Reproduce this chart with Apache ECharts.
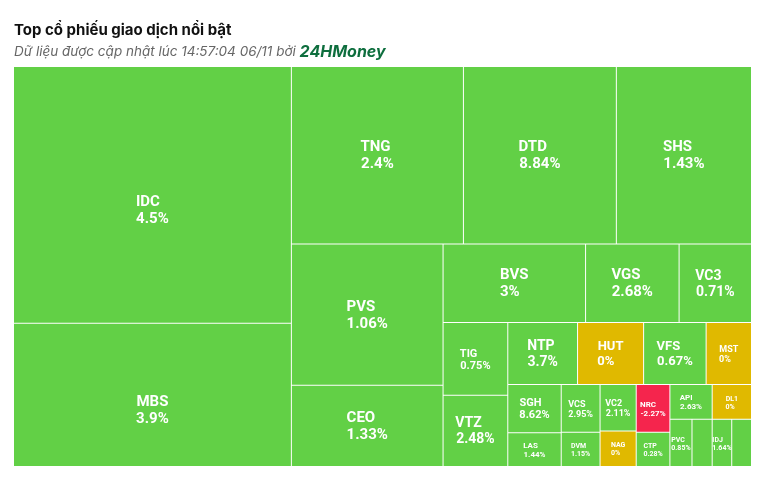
<!DOCTYPE html>
<html>
<head>
<meta charset="utf-8">
<script src="https://cdn.jsdelivr.net/npm/echarts@6/dist/echarts.min.js"></script>
<style>
html,body{margin:0;padding:0;background:#fff;}
#chart{width:771px;height:480px;}
</style>
</head>
<body>
<div id="chart"></div>
<script>
// ---------------- data ----------------
const tickers = ["IDC","MBS","TNG","DTD","SHS","PVS","CEO","BVS","VGS","VC3","TIG","VTZ","NTP","HUT","VFS","MST","SGH","LAS","VCS","VC2","NRC","API","DL1","DVM","NAG","CTP","PVC","IDJ","",""];
// relative trading value (cell size)
const tradeValues = [710.4,396.8,304.1,270.3,238.9,213.6,122.7,111.4,73.1,56.6,47.0,45.9,43.2,40.9,38.7,28.1,25.6,18.0,18.4,16.7,16.0,14.6,13.6,13.3,12.8,11.5,10.4,9.2,9.5,9.3];
// % price change (null = not shown)
const changes = [4.5,3.9,2.4,8.84,1.43,1.06,1.33,3,2.68,0.71,0.75,2.48,3.7,0,0.67,0,8.62,1.44,2.95,2.11,-2.27,2.63,0,1.15,0,0.28,0.85,1.64,null,null];

// ---------------- layout grouping (tickers or indexes), squarified by ECharts ----------------
const layoutTree = [
  ["IDC","MBS"],
  [ [ ["TNG","DTD"], "SHS" ],
    [ ["PVS","CEO"],
      [ ["BVS","VGS","VC3"],
        [ ["TIG","VTZ"],
          [ ["NTP","HUT","VFS","MST"],
            [ ["SGH","LAS"],
              [ [ ["VCS","DVM"], ["VC2","NAG"] ],
                [ [ ["NRC","CTP"], ["API", ["PVC", 28]] ], ["DL1", ["IDJ", 29]] ] ] ] ] ] ] ] ]
];

// ---------------- styles ----------------
const fontSizeMap = {IDC:15,MBS:15,TNG:15,DTD:15,SHS:15,PVS:15,CEO:15,BVS:15,VGS:15,VC3:14,TIG:11,VTZ:14,NTP:14,HUT:13,VFS:13,MST:9,SGH:11,LAS:8,VCS:9,VC2:9,NRC:8,API:8,DL1:7,DVM:7,NAG:7,CTP:7,PVC:7,IDJ:7};
const labelShiftMap = {IDC: 15, MBS: 15};
const GREEN = '#62d046', YELLOW = '#e0b900', RED = '#f5254d';
const FONT = 'Roboto, "Noto Sans", sans-serif';

const canvas = document.createElement('canvas');
const ctx = canvas.getContext('2d');
function textW(t, fs){ ctx.font = 'bold ' + fs + 'px ' + FONT; return ctx.measureText(t).width; }
// pad a line with trailing spaces so both lines have equal width (left-aligned look in a centered block)
function padTo(t, target, fs) {
  const pads = [' ', '\u2009', '\u200A'];
  let s = t, cur = textW(t, fs);
  for (const p of pads) {
    const pw = textW(p, fs);
    if (!(pw > 0.3)) continue;
    while (cur + pw <= target + pw * 0.5) { s += p; cur += pw; }
  }
  return s;
}

function leaf(i) {
  const name = tickers[i];
  const ch = changes[i];
  const color = (ch === null || ch > 0) ? GREEN : (ch < 0 ? RED : YELLOW);
  const fs = fontSizeMap[name];
  const item = { name: name, value: tradeValues[i], itemStyle: { color: color } };
  if (name && fs) {
    const pct = ch + '%';
    const w = Math.max(textW(name, fs), textW(pct, fs));
    const l1 = padTo(name, w, fs), l2 = padTo(pct, w, fs);
    item.label = {
      show: true,
      formatter: l1 + '\n' + l2,
      fontSize: fs, fontWeight: 'bold', color: '#ffffff', fontFamily: FONT,
      lineHeight: Math.round(fs * 1.13),
      offset: [0, 1 + (labelShiftMap[name] || 0)]
    };
  } else {
    item.label = { show: false };
  }
  return item;
}
function build(node) {
  if (Array.isArray(node)) return { name: '', children: node.map(build), label: { show: false } };
  const idx = typeof node === 'number' ? node : tickers.indexOf(node);
  return leaf(idx);
}
const treeData = layoutTree.map(build);

const chart = echarts.init(document.getElementById('chart'), null, { renderer: 'canvas' });
chart.setOption({
  animation: false,
  title: {
    left: 9, top: 16, itemGap: 4,
    text: 'Top cổ phiếu giao dịch nổi bật',
    textStyle: { fontFamily: 'Inter, Roboto, sans-serif', fontWeight: 'bold', fontSize: 15, color: '#111', lineHeight: 18 },
    subtext: '{s|Dữ liệu được cập nhật lúc 14:57:04 06/11 bởi }{b|24HMoney}',
    subtextStyle: {
      lineHeight: 18,
      rich: {
        s: { fontFamily: 'Inter, Roboto, sans-serif', fontStyle: 'italic', fontSize: 13.5, color: '#666', lineHeight: 18 },
        b: { fontFamily: 'Inter, Roboto, sans-serif', fontStyle: 'italic', fontWeight: 'bold', fontSize: 16, color: '#0e6e3e', lineHeight: 18 }
      }
    }
  },
  series: [{
    type: 'treemap',
    left: 14, top: 67, width: 737, height: 399,
    roam: false, nodeClick: false,
    breadcrumb: { show: false },
    sort: false,
    squareRatio: 1.76,
    itemStyle: { borderWidth: 0, gapWidth: 1, borderColor: '#ffffff' },
    label: { show: true, position: 'inside', align: 'center', verticalAlign: 'middle', padding: 0, overflow: 'none' },
    upperLabel: { show: false },
    emphasis: { disabled: true },
    data: treeData
  }]
});
</script>
</body>
</html>
